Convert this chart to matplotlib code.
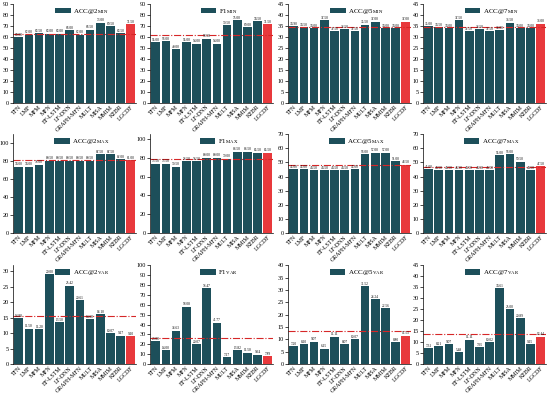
import numpy as np
import matplotlib.pyplot as plt

models = ["TFN", "LMF", "MFM", "MFN", "EF-LSTM", "LF-DNN", "GRAPH-MFN",
          "MULT", "MISA", "MMIM", "KEBR", "LGCDF"]

acc2_min = [60.00, 62.00, 63.50, 63.00, 63.00, 66.00, 62.00, 66.50, 73.00, 69.50, 63.50, 71.50]
f1_min = [55.00, 56.00, 49.00, 55.00, 54.00, 58.50, 54.00, 70.50, 75.00, 69.00, 74.50, 71.50]
acc5_min = [34.90, 34.50, 34.00, 37.50, 32.50, 33.50, 32.50, 35.50, 37.00, 34.00, 34.00, 37.00]
acc7_min = [35.00, 34.50, 34.00, 37.50, 32.50, 33.50, 32.50, 33.00, 36.50, 34.00, 34.00, 36.00]

acc2_max = [74.00, 74.00, 76.00, 80.50, 80.50, 80.50, 80.50, 80.50, 87.50, 87.50, 82.00, 81.00]
f1_max = [73.50, 73.50, 70.50, 76.50, 76.50, 80.00, 80.00, 79.00, 86.50, 86.50, 85.50, 85.50]
acc5_max = [45.00, 45.00, 44.50, 44.50, 44.50, 44.50, 45.00, 56.00, 57.00, 57.00, 51.00, 48.50]
acc7_max = [45.00, 44.50, 44.50, 44.50, 44.50, 44.50, 44.50, 55.00, 56.00, 50.50, 44.50, 47.50]

acc2_var = [14.80, 11.50, 11.20, 29.00, 13.50, 25.42, 20.61, 14.60, 16.10, 10.07, 9.17, 9.10]
f1_var = [23.00, 14.00, 33.63, 58.08, 20.07, 76.47, 41.77, 7.17, 13.82, 11.50, 9.64, 7.89]
acc5_var = [7.20, 8.10, 9.07, 6.15, 11.11, 8.07, 10.07, 31.52, 26.24, 22.56, 8.80, 11.53]
acc7_var = [7.31, 8.21, 9.07, 5.48, 11.11, 7.65, 10.02, 34.61, 25.00, 20.89, 9.15, 12.44]

# reference (red dash-dot) levels
ref_lines = [63.0, 62.0, 34.5, 34.5,
             81.0, 79.0, 48.5, 47.0,
             15.5, 26.5, 13.3, 13.5]

panels = [
    ("ACC@2", "MIN", acc2_min, 90, 10),
    ("F1", "MIN", f1_min, 90, 10),
    ("ACC@5", "MIN", acc5_min, 45, 5),
    ("ACC@7", "MIN", acc7_min, 45, 5),
    ("ACC@2", "MAX", acc2_max, 110, 20),
    ("F1", "MAX", f1_max, 105, 20),
    ("ACC@5", "MAX", acc5_max, 70, 10),
    ("ACC@7", "MAX", acc7_max, 70, 10),
    ("ACC@2", "VAR", acc2_var, 32, 5),
    ("F1", "VAR", f1_var, 100, 10),
    ("ACC@5", "VAR", acc5_var, 40, 5),
    ("ACC@7", "VAR", acc7_var, 45, 5),
]

plt.rcParams["font.family"] = ["Liberation Serif", "DejaVu Serif"]
plt.rcParams["mathtext.fontset"] = "stix"

teal = "#1d4f5a"
red = "#e8393c"

fig = plt.figure(figsize=(5.5, 3.97), dpi=100)
lefts = [0.024, 0.273, 0.524, 0.769]
bottoms = [0.741, 0.413, 0.083]
w = 0.224
h = 0.249

for i, (name, sub, vals, top, step) in enumerate(panels):
    r, c = divmod(i, 4)
    ax = fig.add_axes([lefts[c], bottoms[r], w, h])
    x = np.arange(len(models))
    colors = [teal] * (len(models) - 1) + [red]
    lab = r"%s$_{\rm %s}$" % (name, sub)
    bars = ax.bar(x, vals, width=0.85, color=colors)
    for xi, v in zip(x, vals):
        ax.text(xi, v + top * 0.004, "%.2f" % v, ha="center", va="bottom",
                fontsize=2.5)
    ax.axhline(ref_lines[i], color="#d62728", linestyle="-.", linewidth=0.8)
    ax.set_ylim(0, top)
    ax.set_xlim(-0.55, len(models) - 0.45)
    ax.set_yticks(np.arange(0, top + 0.1, step))
    ax.set_xticks(x)
    ax.set_xticklabels(models, rotation=45, ha="right", rotation_mode="anchor",
                       fontsize=4.3)
    ax.tick_params(axis="y", labelsize=4.5, length=2, width=0.5, pad=1)
    ax.tick_params(axis="x", length=0, pad=1)
    ax.spines["top"].set_visible(False)
    ax.spines["right"].set_visible(False)
    ax.spines["left"].set_linewidth(0.5)
    ax.spines["bottom"].set_linewidth(0.5)
    ax.legend(handles=[bars.patches[0]], labels=[lab],
              loc="center", bbox_to_anchor=(0.56, 0.925), frameon=False,
              fontsize=5, handlelength=2.2, handleheight=0.9,
              handletextpad=0.4, borderpad=0.1)

fig.savefig("out.png", dpi=100)
